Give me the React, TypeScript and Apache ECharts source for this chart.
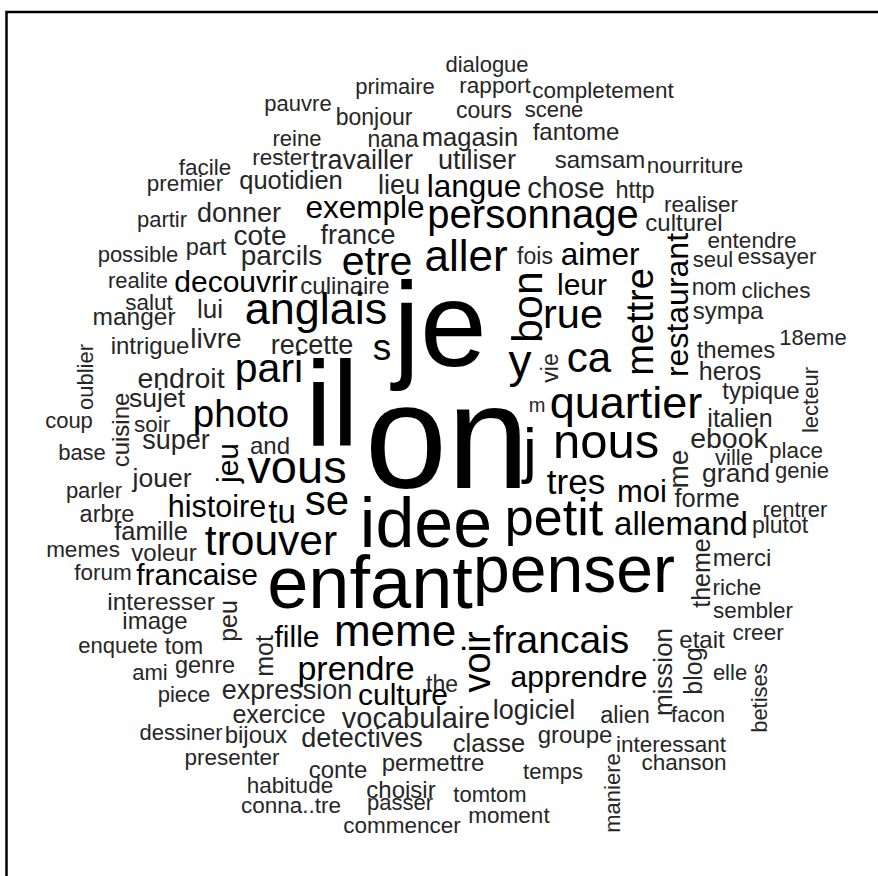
import React, { useEffect, useRef } from "react";
import * as echarts from "echarts";

// Word cloud layout: word, centre x, centre y (cloud units), font size, rotation flag
const words: string[] = [
  "dialogue", "primaire", "rapport", "completement", "pauvre", "bonjour", "cours", "scene",
  "reine", "nana", "magasin", "fantome", "facile", "rester", "travailler", "utiliser",
  "samsam", "nourriture", "premier", "quotidien", "lieu", "langue", "chose", "http",
  "realiser", "partir", "donner", "exemple", "personnage", "culturel", "possible", "part",
  "cote", "france", "entendre", "parc", "ils", "etre", "aller", "fois",
  "aimer", "seul", "essayer", "realite", "decouvrir", "culinaire", "leur", "nom",
  "cliches", "salut", "manger", "lui", "anglais", "rue", "sympa", "intrigue",
  "livre", "recette", "s", "y", "ca", "18eme", "endroit", "pari",
  "il", "je", "themes", "heros", "sujet", "photo", "on", "m",
  "quartier", "typique", "coup", "soir", "italien", "super", "and", "vous",
  "j", "nous", "ebook", "place", "base", "jouer", "ville", "genie",
  "parler", "histoire", "tu", "se", "idee", "tres", "moi", "grand",
  "forme", "arbre", "rentrer", "famille", "trouver", "petit", "allemand", "plutot",
  "memes", "voleur", "merci", "forum", "francaise", "enfant", "penser", "riche",
  "interesser", "sembler", "image", "fille", "meme", "francais", "etait", "creer",
  "enquete", "tom", "elle", "ami", "genre", "prendre", "the", "apprendre",
  "piece", "expression", "culture", "exercice", "vocabulaire", "logiciel", "alien", "facon",
  "dessiner", "bijoux", "detectives", "classe", "groupe", "interessant", "chanson", "presenter",
  "conte", "permettre", "temps", "habitude", "choisir", "tomtom", "conna..tre", "passer",
  "moment", "commencer",
  "restaurant", "mettre", "bon", "oublier", "cuisine", "jeu", "vie", "lecteur",
  "me", "peu", "mot", "theme", "voir", "mission", "blog", "betises", "maniere",
];

const wordX: number[] = [
  487, 395, 495, 603, 298, 374, 484, 554,
  297, 393, 470, 576, 205, 281, 362, 477,
  600, 695, 185, 291, 399, 474, 566, 635,
  701, 162, 239, 365, 533, 684, 138, 206,
  260, 358, 752, 268, 309, 377, 466, 535,
  600, 713, 777, 138, 236, 345, 582, 714,
  776, 149, 134, 210, 316, 573, 728, 150,
  216, 312, 382, 520, 589, 813, 181, 269,
  332, 440, 736, 730, 157, 241, 447, 537,
  626, 761, 69, 152, 740, 176, 270, 297,
  530, 606, 729, 796, 82, 162, 734, 802,
  94, 217, 282, 327, 426, 576, 642, 736,
  707, 107, 795, 151, 271, 554, 681, 780,
  83, 164, 742, 103, 197, 370, 574, 737,
  161, 753, 155, 297, 395, 561, 702, 758,
  118, 184, 730, 150, 205, 356, 442, 579,
  184, 287, 403, 279, 416, 534, 625, 698,
  181, 256, 362, 489, 575, 671, 684, 232,
  338, 433, 553, 290, 401, 490, 291, 400,
  509, 402,
  677, 640, 527, 85, 120, 227, 550, 810,
  678, 228, 264, 701, 477, 663, 693, 759, 612,
];

const wordY: number[] = [
  64, 86, 85, 90, 103, 117, 110, 109,
  138, 139, 137, 131, 167, 157, 160, 160,
  159, 165, 183, 180, 185, 186, 188, 190,
  204, 219, 213, 207, 214, 222, 254, 247,
  235, 235, 240, 255, 255, 261, 255, 256,
  254, 259, 256, 280, 281, 285, 284, 287,
  290, 302, 316, 309, 308, 313, 310, 345,
  338, 345, 347, 361, 357, 337, 378, 368,
  403, 324, 349, 371, 398, 413, 436, 405,
  402, 390, 420, 424, 418, 440, 445, 466,
  449, 441, 438, 450, 452, 478, 457, 470,
  490, 506, 511, 500, 523, 481, 491, 473,
  498, 514, 509, 531, 540, 517, 523, 525,
  549, 552, 557, 572, 574, 582, 569, 587,
  601, 610, 620, 636, 630, 639, 639, 632,
  645, 646, 672, 672, 665, 668, 684, 676,
  694, 690, 694, 714, 718, 710, 715, 714,
  732, 734, 738, 743, 734, 744, 762, 757,
  769, 762, 771, 785, 789, 794, 805, 802,
  815, 825,
  305, 322, 307, 377, 430, 463, 368, 400,
  469, 621, 656, 573, 662, 672, 671, 698, 793,
];

const sizes: number[] = [
  22, 22, 22.5, 22.5, 22, 23, 23, 22,
  22, 23, 25.5, 24, 22.5, 22.5, 27, 27,
  24, 22.5, 22.5, 25.5, 27, 31.5, 29, 23.5,
  22.5, 22, 27, 31.5, 40, 24, 22, 23.5,
  28, 27, 22.5, 28, 28, 41, 44, 23,
  31.5, 22, 22.5, 22, 30, 24, 30, 23,
  22.5, 22.5, 24.5, 26, 45, 41.5, 24, 24,
  28, 27, 37, 46, 42, 22, 28.5, 41,
  120, 120, 24, 25, 26.5, 38.5, 148, 20,
  45, 24, 22, 22.5, 25, 27, 24, 47,
  62, 49, 28.5, 22.5, 22, 26.5, 22, 22,
  22, 30.5, 33, 42, 70, 35, 31, 26.5,
  25.5, 23.5, 22, 25.5, 42.5, 52, 33, 23,
  22.5, 24, 24, 22.5, 30, 74, 66, 22.5,
  24.5, 22.5, 24, 30, 44, 39, 24, 22.5,
  22, 23, 22, 22, 23.5, 34, 23, 30,
  22, 27, 30, 25, 29, 27, 23.5, 22,
  22, 24, 27, 25.5, 24, 22.5, 22.5, 22.5,
  24, 24, 22, 22.5, 24, 22, 22.5, 22,
  22.5, 22.5,
  32, 38, 43, 22, 24, 30, 23, 22,
  28, 25, 25, 25, 38, 26, 25, 22, 22,
];

// 1 = rotated 90 degrees (reads bottom to top)
const rotated: number[] = words.map((_, i) => (i >= 154 ? 1 : 0));

export default function App() {
  const ref = useRef<HTMLDivElement>(null);

  useEffect(() => {
    if (!ref.current) return;
    const chart = echarts.init(ref.current, null, { renderer: "svg" });
    const data = words.map((w, i) => [wordX[i], wordY[i], sizes[i], rotated[i]]);
    chart.setOption({
      animation: false,
      backgroundColor: "#ffffff",
      grid: { left: 0, right: 0, top: 0, bottom: 0 },
      xAxis: { type: "value", min: 0, max: 878, show: false },
      yAxis: { type: "value", min: 0, max: 876, inverse: true, show: false },
      graphic: [
        {
          type: "rect",
          shape: { x: 6.5, y: 12, width: 1000, height: 1000 },
          style: { fill: "none", stroke: "#000", lineWidth: 2.5 },
          silent: true,
        },
      ],
      series: [
        {
          type: "custom",
          silent: true,
          clip: false,
          data,
          renderItem: (params: any, api: any) => {
            const i = params.dataIndex;
            const p = api.coord([api.value(0), api.value(1)]);
            const fs = api.value(2);
            const rot = api.value(3);
            return {
              type: "text",
              x: p[0],
              y: p[1],
              rotation: rot ? Math.PI / 2 : 0,
              style: {
                text: words[i],
                fontSize: fs,
                fontFamily: "'Liberation Sans', Arial, sans-serif",
                fill: fs >= 30 ? "#000000" : "#262626",
                align: "center",
                verticalAlign: "middle",
              },
            };
          },
        },
      ],
    });
    return () => chart.dispose();
  }, []);

  return (
    <div
      ref={ref}
      style={{ position: "fixed", left: 0, top: 0, width: 878, height: 876, background: "#fff" }}
    />
  );
}
